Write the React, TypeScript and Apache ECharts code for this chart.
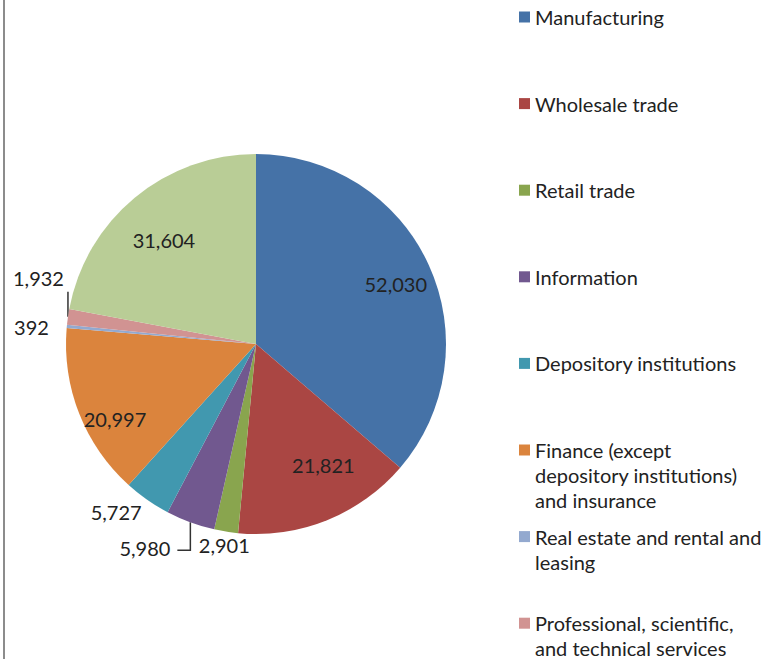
import React, { useEffect, useRef } from "react";
import * as echarts from "echarts";

const categories = [
  "Manufacturing",
  "Wholesale trade",
  "Retail trade",
  "Information",
  "Depository institutions",
  "Finance (except depository institutions) and insurance",
  "Real estate and rental and leasing",
  "Professional, scientific, and technical services",
  "Other industries",
];
const values = [52030, 21821, 2901, 5980, 5727, 20997, 392, 1932, 31604];
const colors = ["#4572A7", "#AA4643", "#89A54E", "#71588F", "#4198AF", "#DB843D", "#93A9CF", "#D19392", "#B9CD96"];
const legendLines: Record<string, string[]> = {
  "Finance (except depository institutions) and insurance": ["Finance (except", "depository institutions)", "and insurance"],
  "Real estate and rental and leasing": ["Real estate and rental and", "leasing"],
  "Professional, scientific, and technical services": ["Professional, scientific,", "and technical services"],
};
const insideIdx = [0, 1, 5, 8];
const lineIdx = [3, 7];
// label nudges (styling only)
const outerNudge: Record<number, { dx: number; dy: number }> = {
  2: { dx: 30, dy: 5 },
  4: { dx: 20, dy: -6 },
  6: { dx: 17, dy: 3 },
};
const innerNudge: Record<number, { dx: number; dy: number }> = {
  0: { dx: 3, dy: 3 },
  1: { dx: 11, dy: -19 },
  5: { dx: -1, dy: 20 },
  8: { dx: 4, dy: 12 },
};

const FONT = "Lato";
const fmt = (v: number) => v.toLocaleString("en-US");

export default function App() {
  const ref = useRef<HTMLDivElement>(null);
  useEffect(() => {
    document.body.style.margin = "0";
    const chart = echarts.init(ref.current!, undefined, { renderer: "svg" });
    const LH = 25;
    const legends = categories.slice(0, 8).map((name, i) => {
      const lines = legendLines[name] || [name];
      const n = lines.length;
      const yc = 17 + i * 86.6;
      return {
        orient: "vertical",
        left: 519,
        top: yc - ((2 * n - 1) * LH) / 2,
        padding: 0,
        itemGap: 0,
        itemWidth: 11,
        itemHeight: 11,
        icon: "rect",
        selectedMode: false,
        data: [name],
        formatter: () => new Array(n - 1).fill("").concat(lines).join("\n"),
        textStyle: { fontFamily: FONT, fontSize: 20, color: "#222", lineHeight: LH },
      };
    });
    const data = categories.map((name, i) => ({
      name,
      value: values[i],
      itemStyle: { color: colors[i] },
      label: { show: !insideIdx.includes(i) },
      labelLine: { show: lineIdx.includes(i), length: i === 2 ? 8 : 22, length2: i === 2 ? 0 : 8 },
    }));
    const labelData = categories.map((name, i) => ({
      name,
      value: values[i],
      label: { show: insideIdx.includes(i) },
    }));
    const outerLayout = (p: any) => {
      const r = p.labelRect;
      const pts = p.labelLinePoints;
      if (p.dataIndex === 7 && pts) {
        const [ex, ey] = pts[0];
        return {
          hideOverlap: false,
          dx: ex - 4 - (r.x + r.width),
          dy: ey - 29 - (r.y + r.height),
          labelLinePoints: [[ex, ey], [ex, ey - 25]],
        };
      }
      if (p.dataIndex === 3 && pts) {
        const [ex, ey] = pts[0];
        return {
          hideOverlap: false,
          dx: ex - 20 - (r.x + r.width),
          dy: ey + 26 - (r.y + r.height / 2),
          labelLinePoints: [[ex, ey], [ex, ey + 28], [ex - 13, ey + 28]],
        };
      }
      const nd = outerNudge[p.dataIndex];
      return { hideOverlap: false, dx: nd ? nd.dx : 0, dy: nd ? nd.dy : 0 };
    };
    chart.setOption({
      animation: false,
      legend: legends,
      graphic: [
        { type: "line", shape: { x1: 4, y1: 0, x2: 4, y2: 659 }, style: { stroke: "#8c8c8c", lineWidth: 2 } },
      ],
      series: [
        {
          type: "pie",
          center: [256, 344],
          radius: 190,
          startAngle: 90,
          clockwise: true,
          avoidLabelOverlap: false,
          data,
          label: {
            position: "outside",
            formatter: (p: any) => fmt(p.value),
            fontFamily: FONT,
            fontSize: 20,
            color: "#222",
            overflow: "none",
          },
          labelLayout: outerLayout,
          labelLine: { lineStyle: { color: "#333", width: 1.5 } },
          itemStyle: { borderWidth: 0 },
          emphasis: { disabled: true },
        },
        {
          type: "pie",
          center: [256, 344],
          radius: [105, 190],
          startAngle: 90,
          clockwise: true,
          silent: true,
          avoidLabelOverlap: false,
          data: labelData,
          itemStyle: { color: "rgba(0,0,0,0)", borderWidth: 0 },
          label: {
            position: "inside",
            formatter: (p: any) => fmt(p.value),
            fontFamily: FONT,
            fontSize: 20,
            color: "#222",
          },
          labelLayout: (p: any) => {
            const nd = innerNudge[p.dataIndex];
            return { hideOverlap: false, dx: nd ? nd.dx : 0, dy: nd ? nd.dy : 0 };
          },
          labelLine: { show: false },
          emphasis: { disabled: true },
        },
      ],
    });
    return () => chart.dispose();
  }, []);
  return <div ref={ref} style={{ width: 770, height: 659 }} />;
}
